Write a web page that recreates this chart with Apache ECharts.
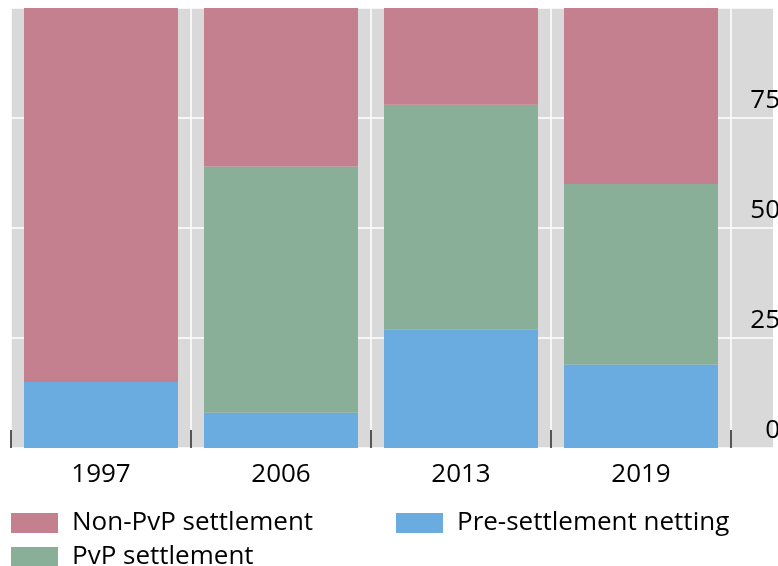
<!DOCTYPE html>
<html>
<head>
<meta charset="utf-8">
<script src="https://cdn.jsdelivr.net/npm/echarts@6/dist/echarts.min.js"></script>
<style>
html,body{margin:0;padding:0;background:#fff;}
#chart{width:778px;height:566px;}
</style>
</head>
<body>
<div id="chart"></div>
<script>
const categories = ['1997', '2006', '2013', '2019'];
const preSettlement = [15, 8, 27, 19];
const pvpSettlement = [0, 56, 51, 41];
const nonPvpSettlement = [85, 36, 22, 40];
const yTicks = [0, 25, 50, 75, 100];

const FONT = 'Open Sans';
const FS = 26;
const colors = { non: '#C4808F', pvp: '#8AAF98', pre: '#6AACE0' };

function legendAt(left, top, name) {
  return {
    left: left, top: top, orient: 'horizontal', padding: 0, itemWidth: 47, itemHeight: 20,
    data: [name],
    textStyle: { fontSize: FS, color: '#000', fontFamily: FONT, padding: [0, 0, 0, 9] },
    icon: 'rect', selectedMode: false
  };
}

const chart = echarts.init(document.getElementById('chart'));
const option = {
  animation: false,
  textStyle: { fontFamily: FONT },
  grid: [
    { left: 11, width: 720, top: 8, bottom: 118, show: true, backgroundColor: '#D9D9D9', borderWidth: 0 },
    { left: 731, right: 0, top: 8, bottom: 118, show: true, backgroundColor: '#D9D9D9', borderWidth: 0 }
  ],
  legend: [
    legendAt(11, 510, 'Non-PvP settlement'),
    legendAt(11, 544, 'PvP settlement'),
    legendAt(396, 510, 'Pre-settlement netting')
  ],
  xAxis: [
    {
      type: 'category', gridIndex: 0, data: categories,
      axisLine: { show: false },
      axisTick: { show: true, inside: true, length: 18, lineStyle: { color: '#222', width: 1.5 } },
      splitLine: { show: true, lineStyle: { color: '#fff', width: 1.5 } },
      axisLabel: { fontSize: FS, color: '#000', margin: 14, fontFamily: FONT }
    },
    {
      type: 'category', gridIndex: 1, data: [''],
      axisLine: { show: false }, axisTick: { show: false }, axisLabel: { show: false },
      splitLine: { show: false }
    }
  ],
  yAxis: [
    {
      type: 'value', gridIndex: 0, min: 0, max: 100, interval: 25,
      axisLine: { show: false }, axisTick: { show: false }, axisLabel: { show: false },
      splitLine: { show: true, lineStyle: { color: '#fff', width: 1.5 } }
    },
    {
      type: 'value', gridIndex: 1, min: 0, max: 100, interval: 25, position: 'left',
      axisLine: { show: false }, axisTick: { show: false },
      axisLabel: {
        inside: true, margin: 49, fontSize: FS, color: '#000', fontFamily: FONT,
        align: 'right', verticalAlign: 'bottom', padding: [0, 0, 4, 0],
        showMaxLabel: false, showMinLabel: true,
        formatter: v => (yTicks.indexOf(v) >= 0 && v < 100 ? String(v) : '')
      },
      splitLine: { show: true, lineStyle: { color: '#fff', width: 1.5 } }
    }
  ],
  series: [
    { name: 'Pre-settlement netting', type: 'bar', stack: 's', data: preSettlement, barWidth: 154, itemStyle: { color: colors.pre } },
    { name: 'PvP settlement', type: 'bar', stack: 's', data: pvpSettlement, barWidth: 154, itemStyle: { color: colors.pvp } },
    { name: 'Non-PvP settlement', type: 'bar', stack: 's', data: nonPvpSettlement, barWidth: 154, itemStyle: { color: colors.non } }
  ]
};
chart.setOption(option);
</script>
</body>
</html>
